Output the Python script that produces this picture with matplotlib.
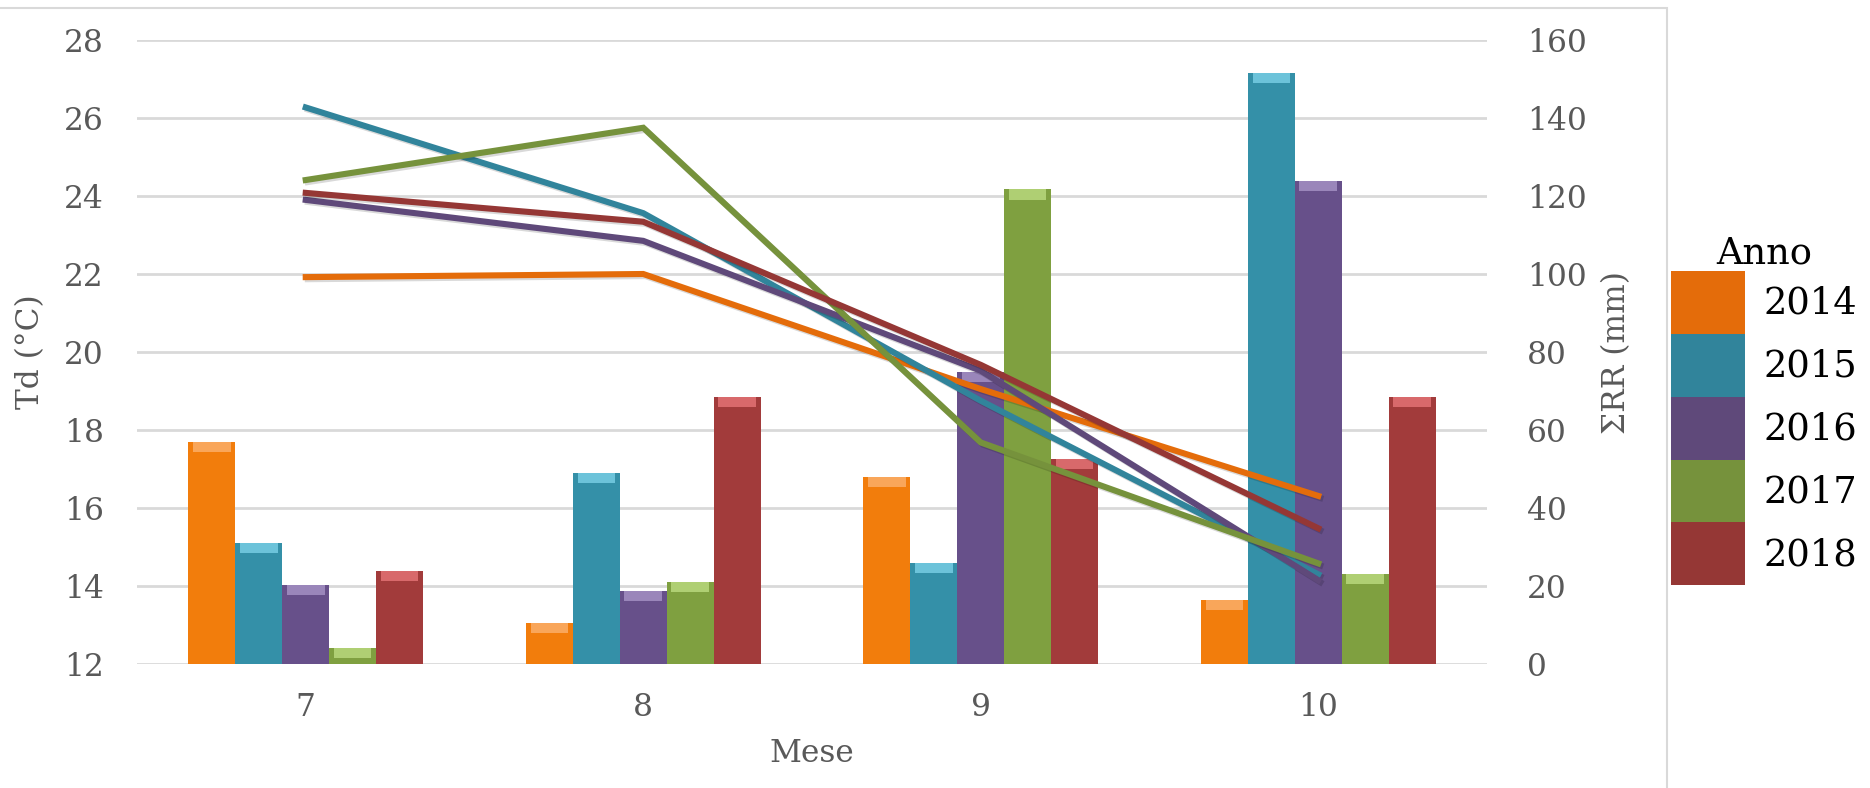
import numpy as np
import matplotlib
matplotlib.use("Agg")
from matplotlib import pyplot as plt
from matplotlib.patches import Patch, Rectangle
import matplotlib.patheffects as pe

plt.rcParams['font.family'] = ['DejaVu Serif']

mesi = ['7', '8', '9', '10']
anni = ['2014', '2015', '2016', '2017', '2018']

# temperature (left axis, lines)
td_2014 = [21.92, 22.00, 19.05, 16.31]
td_2015 = [26.27, 23.56, 18.75, 14.30]
td_2016 = [23.90, 22.85, 19.52, 14.15]
td_2017 = [24.41, 25.75, 17.68, 14.58]
td_2018 = [24.08, 23.34, 19.67, 15.48]

# rainfall (right axis, bars)
rr_2014 = [57.0, 10.6, 48.0, 16.4]
rr_2015 = [31.1, 48.9, 26.0, 151.6]
rr_2016 = [20.3, 18.8, 74.8, 123.9]
rr_2017 = [4.2, 21.1, 121.7, 23.0]
rr_2018 = [23.9, 68.5, 52.5, 68.5]

td = [td_2014, td_2015, td_2016, td_2017, td_2018]
rr = [rr_2014, rr_2015, rr_2016, rr_2017, rr_2018]

line_cols = ['#E46C0A', '#31849B', '#5F497A', '#76923C', '#953735']
bar_cols = ['#F27D0C', '#3490A8', '#67508A', '#7FA040', '#A23B3B']
top_cols = ['#F9A65A', '#6CC3DA', '#9A86BA', '#AFCF73', '#D8696B']

grey = '#595959'
fs = 22.5

fig = plt.figure(figsize=(18.7, 7.88), dpi=100)
ax = fig.add_axes([137 / 1870, 1 - 664 / 788, (1487 - 137) / 1870, (664 - 40) / 788])
ax2 = ax.twinx()

x = np.arange(len(mesi))
w = 0.139

for i in range(5):
    pos = x + (i - 2) * w
    ax2.bar(pos, rr[i], width=w, color=bar_cols[i], edgecolor='none', zorder=2)
    ax2.bar(pos, [2.6] * 4, bottom=np.array(rr[i]) - 2.6, width=w * 0.8,
            color=top_cols[i], edgecolor='none', zorder=3)

for i in range(5):
    ax.plot(x, td[i], color=line_cols[i], lw=4.4, solid_joinstyle='miter', zorder=3,
            path_effects=[pe.SimpleLineShadow(offset=(1.5, -1.5), alpha=0.15), pe.Normal()])

ax.set_zorder(2)
ax2.set_zorder(1)
ax.patch.set_visible(False)

ax.set_xlim(-0.5, 3.5)
ax.set_ylim(12, 28)
ax2.set_ylim(0, 160)
ax.set_yticks(np.arange(12, 29, 2))
ax2.set_yticks(np.arange(0, 161, 20))
ax.set_xticks(x)
ax.set_xticklabels(mesi)

ax2.yaxis.grid(True, color='#d9d9d9', lw=2)
ax2.set_axisbelow(True)

for a in (ax, ax2):
    for s in a.spines.values():
        s.set_visible(False)
    a.tick_params(length=0, labelsize=fs, labelcolor=grey)
ax.tick_params(axis='y', pad=24)
ax2.tick_params(axis='y', pad=29)
ax.tick_params(axis='x', pad=20)

ax.set_xlabel('Mese', fontsize=fs, color=grey, labelpad=11)
ax.set_ylabel('Td (°C)', fontsize=fs, color=grey, labelpad=13)
ax2.set_ylabel('ΣRR (mm)', fontsize=fs, color=grey, labelpad=10)

# chart frame
fig.patches.append(Rectangle((-0.01, -0.01), 1667 / 1870 + 0.01, 1 - 8 / 788 + 0.01,
                             transform=fig.transFigure, fill=False,
                             edgecolor='#d9d9d9', lw=1.5))

handles = [Patch(facecolor=c, edgecolor='none') for c in line_cols]
leg = fig.legend(handles, anni, title='Anno', loc='upper left',
                 bbox_to_anchor=(1671 / 1870, 1 - 235 / 788), frameon=False,
                 fontsize=26.5, title_fontsize=26.5, handlelength=2.0, handleheight=2.25,
                 labelspacing=0, handletextpad=0.5, borderpad=0, borderaxespad=0)

fig.savefig('out.png', dpi=100, facecolor='white')
